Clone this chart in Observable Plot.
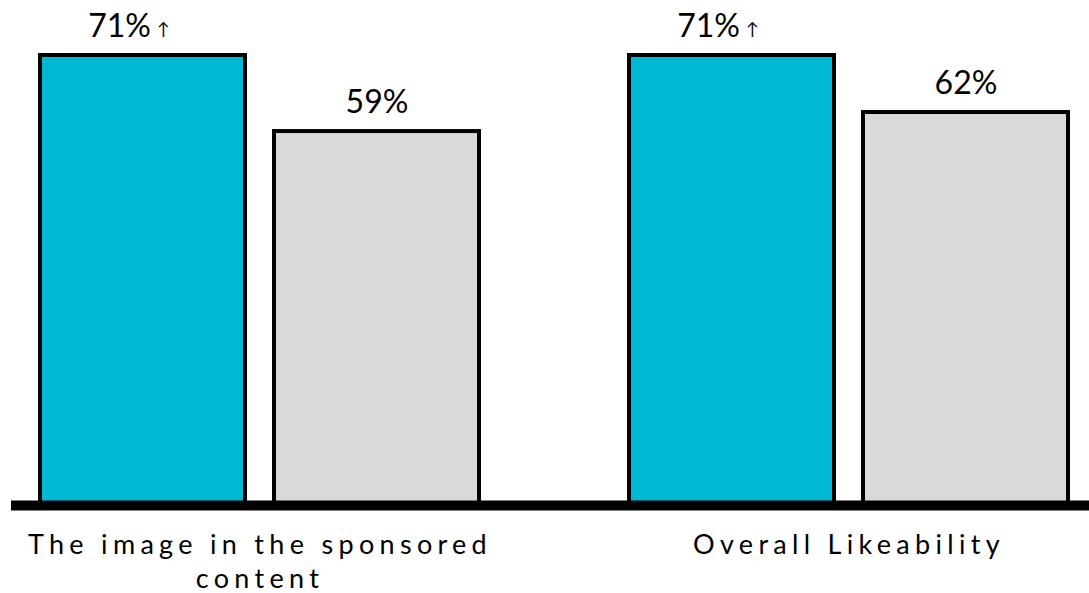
<!DOCTYPE html>
<html><head><meta charset="utf-8">
<script src="https://cdn.jsdelivr.net/npm/d3@7"></script>
<script src="https://cdn.jsdelivr.net/npm/@observablehq/plot@0.6"></script>
<style>
body{margin:0;background:#fff;}
#chart [aria-label="fx-axis tick label"] text{letter-spacing:5.3px;}
</style></head><body><div id="chart"></div>
<script>
const groups = ["The image in the sponsored\ncontent", "Overall Likeability"];
const series = ["Sponsored", "Norm"];
const seriesValues = {
  "Sponsored": [71, 71],
  "Norm": [59, 62]
};
const upFlags = {
  "Sponsored": [true, true],
  "Norm": [false, false]
};
const colors = ["#00B7D4", "#D9D9D9"];

const data = [];
groups.forEach((g, i) => series.forEach(s => data.push({group: g, series: s, value: seriesValues[s][i], up: upFlags[s][i]})));

const chart = Plot.plot({
  width: 1089,
  height: 593,
  marginTop: 55,
  marginBottom: 88,
  marginLeft: 11,
  marginRight: 0,
  style: {fontFamily: "Lato, sans-serif", color: "#000", background: "#fff"},
  fx: {domain: groups, paddingInner: 0.2513, paddingOuter: 0.04075, align: 0.583, label: null},
  x: {domain: series, paddingInner: 0.1234, paddingOuter: 0, axis: null},
  y: {domain: [0, d3.max(data, d => d.value)], axis: null},
  color: {domain: series, range: colors},
  marks: [
    Plot.barY(data, {fx: "group", x: "series", y: "value", fill: "series", stroke: "#000", strokeWidth: 4}),
    Plot.text(data.filter(d => !d.up), {fx: "group", x: "series", y: "value", text: d => d.value + "%", dy: -19, lineAnchor: "bottom", fontSize: 32, fill: "#000"}),
    Plot.text(data.filter(d => d.up), {fx: "group", x: "series", y: "value", text: d => d.value + "%", dy: -19, dx: 8, textAnchor: "end", lineAnchor: "bottom", fontSize: 32, fill: "#000"}),
    Plot.text(data.filter(d => d.up), {fx: "group", x: "series", y: "value", text: () => "↑", dy: -21, dx: 14, textAnchor: "start", lineAnchor: "bottom", fontSize: 17, fill: "#000"}),
    Plot.ruleY([{group: groups[0], value: 0}], {fx: "group", y: "value", stroke: "#000", strokeWidth: 10, insetLeft: -28, insetRight: -620}),
    Plot.axisFx({anchor: "bottom", tickSize: 0, tickPadding: 25, fontSize: 27, lineHeight: 1.24, label: null})
  ]
});
document.getElementById("chart").appendChild(chart);
</script>
</body></html>
